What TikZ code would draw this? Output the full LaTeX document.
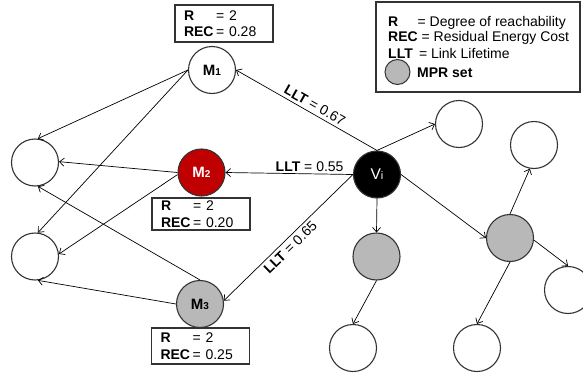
\documentclass[tikz,border=0pt]{standalone}
\usepackage{fontspec}
\setmainfont{Liberation Sans}
\usetikzlibrary{arrows.meta}

\definecolor{outline}{HTML}{333333}
\definecolor{mprgray}{HTML}{B8B8B8}
\definecolor{mprred}{HTML}{C00000}

% key = value line inside the boxes
\newcommand\kv[2]{\makebox[2.3em][l]{\textbf{#1}}= #2}
% node names M_k and V_i
\newcommand\mlab[1]{\fontsize{15}{15}\selectfont\bfseries M\fontsize{10}{10}\selectfont #1}
\newcommand\vlab{\fontsize{15.5}{15.5}\selectfont V\fontsize{11}{11}\selectfont i}

\tikzset{
  nd/.style={circle, draw=outline, line width=1.1pt, minimum size=47pt,
             inner sep=0pt, fill=white},
  mpr/.style={nd, fill=mprgray},
  rednd/.style={nd, fill=mprred, text=white},
  src/.style={nd, fill=black, text=white},
  link/.style={-{Straight Barb[length=4.5pt,width=8pt]}, line width=0.7pt, black},
  valbox/.style={draw=outline, line width=1.3pt, fill=white, text width=80pt,
                 inner xsep=9pt, inner ysep=0pt, align=left,
                 font=\fontsize{14}{16.5}\selectfont},
  lbl/.style={font=\fontsize{14}{15}\selectfont, inner sep=2pt},
  lgtext/.style={font=\fontsize{14}{15.5}\selectfont, inner sep=0pt, anchor=west}
}

\begin{document}
\begin{tikzpicture}[x=1pt,y=-1pt]
\useasboundingbox (0,0) rectangle (583,372);

% nodes
\node[nd]    (L1) at (35,162.5) {};
\node[nd]    (L2) at (35,256.5) {};
\node[nd]    (M1) at (212,70) {\mlab{1}};
\node[rednd] (M2) at (201.5,172.5) {\mlab{2}};
\node[mpr]   (M3) at (200,304) {\mlab{3}};
\node[src]   (Vi) at (377,174.5) {\vlab};
\node[nd]    (A)  at (459,124) {};
\node[mpr]   (B)  at (376.5,256.5) {};
\node[mpr]   (C)  at (510,238) {};
\node[nd]    (D)  at (534,145) {};
\node[nd]    (E)  at (568,290) {};
\node[nd]    (F)  at (353,348) {};
\node[nd]    (G)  at (477,348) {};

% value boxes
\node[valbox, minimum height=37pt] (R1) at (224,23.5) {\kv{R}{2}\\\kv{REC}{0.28}};
\node[valbox, minimum height=32pt] (R2) at (201,214) {\kv{R}{2}\\\kv{REC}{0.20}};
\node[valbox, minimum height=36pt] (R3) at (200.5,346) {\kv{R}{2}\\\kv{REC}{0.25}};

% links from V_i
\draw[link] (Vi.north) -- node[lbl, sloped, above, pos=0.47, inner sep=3pt] {\textbf{LLT} = 0.67} (M1.east);
\draw[link] (Vi.west) -- node[lbl, above, pos=0.34] {\textbf{LLT} = 0.55} (M2.east);
\draw[link] (Vi.west) -- node[lbl, sloped, below, pos=0.53, inner sep=3pt] {\textbf{LLT} = 0.65} (M3.8);
\draw[link] (Vi.north) -- (A.west);
\draw[link] (Vi.south) -- (B.north);
\draw[link] (Vi.east) -- (C.west);

% two-hop links
\draw[link] (B.south) -- (F.north);
\draw[link] (C.north) -- (D.260);
\draw[link] (C.-5) -- (E.north);
\draw[link] (C.south) -- (G.north);
\draw[link] (M1.west) -- (L1.83);
\draw[link] (M1.west) -- (L2.83);
\draw[link] (M2.west) -- (L1.2);
\draw[link] (M2.185) -- (L2.6);
\draw[link] (M3.north) -- (L1.-83);
\draw[link] (M3.west) -- (L2.-83);

% legend
\node[draw=outline, line width=1.3pt, minimum width=204pt, minimum height=90pt,
      inner sep=0pt] (legend) at (478,47) {};
\node[lgtext] (kR) at (388,22.5) {\makebox[2.1em][l]{\textbf{R}}= Degree of reachability};
\node[lgtext] (kREC) at (388,38) {\textbf{REC} = Residual Energy Cost};
\node[lgtext] (kLLT) at (388,53.5) {\makebox[2.2em][l]{\textbf{LLT}}= Link Lifetime};
\node[mpr, minimum size=25pt, line width=1pt] (kMPR) at (397.5,72) {};
\node[lgtext] (kMPRt) at (417,73) {\textbf{MPR set}};
\end{tikzpicture}
\end{document}
